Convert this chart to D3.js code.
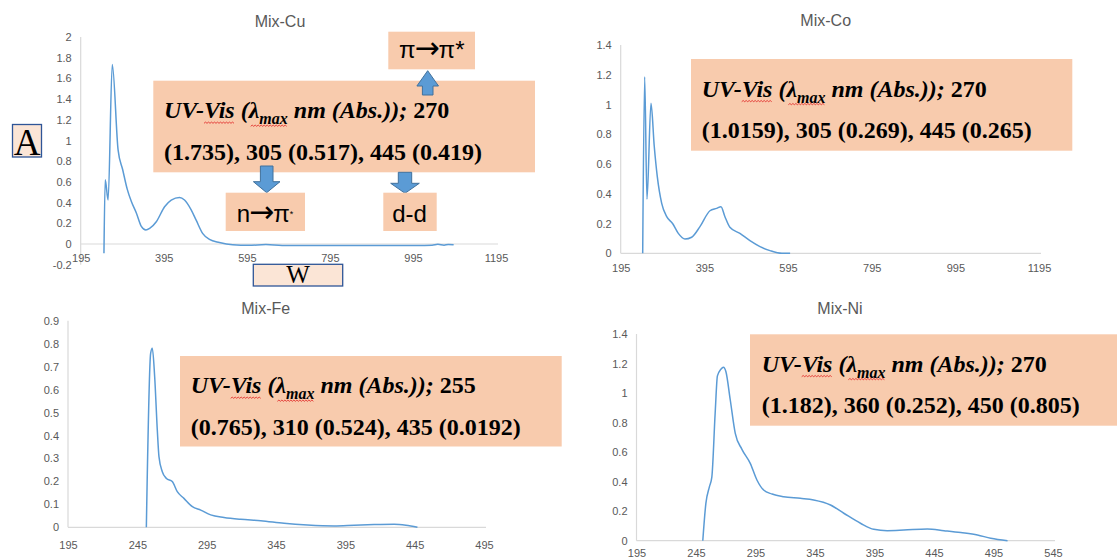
<!DOCTYPE html>
<html><head><meta charset="utf-8">
<script src="https://cdn.jsdelivr.net/npm/d3@7"></script>
<style>body{margin:0;background:#fff;} svg{display:block}</style>
</head><body><svg id="c" width="1117" height="559"></svg>
<script>
// ---------- data ----------
const cuWavelength = [251, 254, 261, 271, 285, 296, 307, 317, 329, 341, 352, 361, 377, 397, 413, 433, 445, 461, 473, 489, 505, 529, 561, 600, 641, 680, 800, 900, 1000, 1041, 1055, 1070, 1080, 1093];
const cuAbsorbance = [-0.09, 0.62, 0.425, 1.735, 0.91, 0.72, 0.53, 0.41, 0.30, 0.17, 0.135, 0.15, 0.215, 0.36, 0.425, 0.45, 0.425, 0.33, 0.23, 0.10, 0.045, 0.015, -0.007, -0.013, -0.006, -0.014, -0.015, -0.015, -0.014, -0.012, -0.003, -0.012, -0.004, -0.008];

const coWavelength = [247.6, 252.3, 257.8, 267.4, 275.3, 282.5, 293, 305, 319, 332.7, 348.6, 364.6, 384.5, 408.4, 424.4, 434.7, 444.2, 456, 480, 504, 528, 552, 580, 600];
const coAbsorbance = [0, 1.187, 0.363, 1.008, 0.716, 0.515, 0.336, 0.246, 0.2, 0.134, 0.096, 0.108, 0.179, 0.286, 0.302, 0.313, 0.246, 0.175, 0.134, 0.085, 0.045, 0.018, 0, 0];

const feWavelength = [251.5, 254.6, 255.8, 257.5, 259.4, 260.6, 263, 266, 270.2, 273.8, 278.6, 284.7, 290.7, 297.9, 307.5, 319.5, 334, 350.8, 367.7, 386.9, 401.4, 415.8, 430.2, 438.7, 447];
const feAbsorbance = [0, 0.758, 0.78, 0.656, 0.424, 0.308, 0.242, 0.213, 0.199, 0.155, 0.126, 0.09, 0.075, 0.054, 0.043, 0.035, 0.029, 0.0174, 0.01, 0.006, 0.009, 0.012, 0.0135, 0.009, 0];

const niWavelength = [250.7, 253.3, 256.3, 258.3, 261.1, 263, 265.9, 268.1, 270.1, 273.8, 278, 283.6, 290.6, 296.2, 301.8, 308.9, 318.6, 332.7, 343.9, 358, 369.2, 383.2, 394.4, 405.7, 419.7, 439.4, 453.4, 467.5, 481.5, 492.7, 506.8];
const niAbsorbance = [0, 0.253, 0.366, 0.43, 0.863, 1.116, 1.161, 1.175, 1.146, 0.953, 0.727, 0.619, 0.524, 0.411, 0.343, 0.316, 0.298, 0.287, 0.276, 0.242, 0.186, 0.118, 0.077, 0.068, 0.072, 0.08, 0.068, 0.055, 0.039, 0.016, 0];

const cuXTicks = [195, 395, 595, 795, 995, 1195];
const cuYTicks = [-0.2, 0, 0.2, 0.4, 0.6, 0.8, 1, 1.2, 1.4, 1.6, 1.8, 2];
const coXTicks = [195, 395, 595, 795, 995, 1195];
const coYTicks = [0, 0.2, 0.4, 0.6, 0.8, 1, 1.2, 1.4];
const feXTicks = [195, 245, 295, 345, 395, 445, 495];
const feYTicks = [0, 0.1, 0.2, 0.3, 0.4, 0.5, 0.6, 0.7, 0.8, 0.9];
const niXTicks = [195, 245, 295, 345, 395, 445, 495, 545];
const niYTicks = [0, 0.2, 0.4, 0.6, 0.8, 1, 1.2, 1.4];

const titles = ["Mix-Cu", "Mix-Co", "Mix-Fe", "Mix-Ni"];
const noteFirstLine = ["270", "270", "255", "270"];
const noteSecondLine = [
  "(1.735), 305 (0.517), 445 (0.419)",
  "(1.0159), 305 (0.269), 445 (0.265)",
  "(0.765), 310 (0.524), 435 (0.0192)",
  "(1.182), 360 (0.252), 450 (0.805)"
];
const transitionFrom = ["π", "n", "d"];
const transitionLink = ["→", "→", "-"];
const transitionTo = ["π*", "π*", "d"];
const axisTitles = ["A", "W"];

// ---------- drawing ----------
const svg = d3.select('#c');
const LINE = '#5b9bd5', AX = '#d9d9d9', TXT = '#595959', PEACH = '#f8cbad';
const SANS = '"Liberation Sans", Arial, sans-serif';
const SERIF = '"Liberation Serif", "Times New Roman", serif';
const fmt = d => String(+d.toFixed(1));

const panels = [
  {title: titles[0], wl: cuWavelength, ab: cuAbsorbance, xt: cuXTicks, yt: cuYTicks, xd: [195, 1195], yd: [-0.2, 2],
   x0: 80.7, x1: 496, yb: 264.7, ytop: 37, xPad: 10, tx: 280, ty: 27.4},
  {title: titles[1], wl: coWavelength, ab: coAbsorbance, xt: coXTicks, yt: coYTicks, xd: [195, 1195], yd: [0, 1.4],
   x0: 620.7, x1: 1039, yb: 253.3, ytop: 45, xPad: 10.8, tx: 825.7, ty: 25.7},
  {title: titles[2], wl: feWavelength, ab: feAbsorbance, xt: feXTicks, yt: feYTicks, xd: [195, 495], yd: [0, 0.9],
   x0: 68, x1: 484, yb: 527.3, ytop: 320.7, xPad: 13.8, tx: 265.7, ty: 314},
  {title: titles[3], wl: niWavelength, ab: niAbsorbance, xt: niXTicks, yt: niYTicks, xd: [195, 545], yd: [0, 1.4],
   x0: 636.5, x1: 1053, yb: 540.7, ytop: 334, xPad: 8.6, tx: 840, ty: 314}
];

panels.forEach(p => {
  const x = d3.scaleLinear().domain(p.xd).range([p.x0, p.x1]);
  const y = d3.scaleLinear().domain(p.yd).range([p.yb, p.ytop]);
  const g = svg.append('g');
  g.append('line').attr('x1', p.x0).attr('x2', p.x0).attr('y1', p.ytop).attr('y2', p.yb)
    .attr('stroke', AX).attr('stroke-width', 1.2);
  g.append('line').attr('x1', p.x0).attr('x2', p.x1 + 2).attr('y1', y(0)).attr('y2', y(0))
    .attr('stroke', AX).attr('stroke-width', 1.2);
  const ya = g.append('g').attr('transform', `translate(${p.x0},0)`)
    .call(d3.axisLeft(y).tickValues(p.yt).tickSize(0).tickPadding(9).tickFormat(fmt));
  const xa = g.append('g').attr('transform', `translate(0,${y(0)})`)
    .call(d3.axisBottom(x).tickValues(p.xt).tickSize(0).tickPadding(p.xPad).tickFormat(d3.format('d')));
  [ya, xa].forEach(a => {
    a.select('.domain').remove();
    a.selectAll('text').attr('font-family', SANS).attr('font-size', 11).attr('fill', TXT);
  });
  const pts = p.wl.map((w, i) => [w, p.ab[i]]);
  g.append('path').datum(pts)
    .attr('d', d3.line().x(d => x(d[0])).y(d => y(d[1])).curve(d3.curveMonotoneX))
    .attr('fill', 'none').attr('stroke', LINE).attr('stroke-width', 1.5).attr('stroke-linejoin', 'round');
  g.append('text').attr('x', p.tx).attr('y', p.ty).attr('text-anchor', 'middle')
    .attr('font-family', SANS).attr('font-size', 16).attr('fill', TXT).text(p.title);
});

function wavy(x0, x1, yy) {
  let d = `M${x0},${yy}`;
  let up = true;
  for (let xx = x0 + 1.5; xx <= x1; xx += 1.5) { d += `L${xx},${yy + (up ? -1.2 : 0)}`; up = !up; }
  svg.append('path').attr('d', d).attr('fill', 'none').attr('stroke', '#e02020').attr('stroke-width', 0.8);
}

const notes = [
  {x: 153.3, y: 80.7, w: 381.7, h: 91.6, tx: 164, b1: 118.3, b2: 160.3},
  {x: 691, y: 59, w: 381.3, h: 91.7, tx: 701.7, b1: 96.7, b2: 138.3},
  {x: 180, y: 356, w: 381.7, h: 90.5, tx: 190.7, b1: 393.3, b2: 434.8},
  {x: 750, y: 334.3, w: 382, h: 91.4, tx: 761.7, b1: 371.7, b2: 413.3}
];
notes.forEach((n, i) => {
  svg.append('rect').attr('x', n.x).attr('y', n.y).attr('width', n.w).attr('height', n.h).attr('fill', PEACH);
  const t = svg.append('text').attr('x', n.tx).attr('y', n.b1).attr('font-family', SERIF)
    .attr('font-weight', 'bold').attr('font-size', 24).attr('fill', '#000');
  t.append('tspan').attr('font-style', 'italic').text('UV-Vis (λ');
  t.append('tspan').attr('font-style', 'italic').attr('font-size', 16).attr('dy', 6).text('max');
  t.append('tspan').attr('font-style', 'italic').attr('dy', -6).text(' nm (Abs.));');
  t.append('tspan').text(' ' + noteFirstLine[i]);
  svg.append('text').attr('x', n.tx).attr('y', n.b2).attr('font-family', SERIF)
    .attr('font-weight', 'bold').attr('font-size', 24).attr('fill', '#000').text(noteSecondLine[i]);
  const node = t.node();
  wavy(node.getStartPositionOfChar(3).x, node.getEndPositionOfChar(5).x, n.b1 + 5);
  wavy(node.getStartPositionOfChar(8).x + 2, node.getEndPositionOfChar(11).x, n.b1 + 8);
});

// block arrows (Mix-Cu)
function arrow(cx, tip, headBase, end, headHalf, shaftHalf) {
  const pts = [[cx, tip], [cx + headHalf, headBase], [cx + shaftHalf, headBase], [cx + shaftHalf, end],
               [cx - shaftHalf, end], [cx - shaftHalf, headBase], [cx - headHalf, headBase]];
  svg.append('path').attr('d', 'M' + pts.map(p => p.join(',')).join('L') + 'Z')
    .attr('fill', LINE).attr('stroke', '#41719c').attr('stroke-width', 1);
}
arrow(427.7, 70.7, 86, 95, 10.8, 5.3);
arrow(266.7, 192.7, 181.7, 166, 13.3, 6.3);
arrow(405, 193.3, 183.3, 172.3, 14.3, 6.7);

const smallBoxes = [
  {x: 388.3, y: 31.7, w: 86.7, h: 37.6, cx: 431.7, b: 58.3, bigStar: true},
  {x: 225.7, y: 192.7, w: 79.3, h: 38.3, cx: 265, b: 221.7, bigStar: false},
  {x: 383.3, y: 192.7, w: 53.4, h: 38.3, cx: 409.5, b: 221.7, bigStar: false}
];
smallBoxes.forEach((b, i) => {
  svg.append('rect').attr('x', b.x).attr('y', b.y).attr('width', b.w).attr('height', b.h).attr('fill', PEACH);
  const t = svg.append('text').attr('x', b.cx).attr('y', b.b).attr('text-anchor', 'middle')
    .attr('font-family', SANS).attr('font-size', 24).attr('fill', '#000');
  t.append('tspan').text(transitionFrom[i]);
  if (transitionLink[i] === '→') {
    t.append('tspan').attr('font-family', '"DejaVu Sans", sans-serif').attr('font-size', 30).attr('dx', -1).text('→');
    const to = transitionTo[i];
    t.append('tspan').attr('dx', -1).text(to[0]);
    t.append('tspan').attr('font-size', b.bigStar ? 24 : 9).attr('dy', b.bigStar ? 0 : -5).text(to.slice(1));
  } else {
    t.append('tspan').text(transitionLink[i] + transitionTo[i]);
  }
});

// axis title boxes
svg.append('rect').attr('x', 12.5).attr('y', 124.5).attr('width', 29).attr('height', 32.5)
  .attr('fill', '#fbe5d6').attr('stroke', '#2f5597').attr('stroke-width', 1.3);
svg.append('text').attr('x', 27).attr('y', 155).attr('text-anchor', 'middle').attr('font-family', SERIF)
  .attr('font-size', 37).attr('fill', '#000').text(axisTitles[0]);
svg.append('rect').attr('x', 253.3).attr('y', 264.3).attr('width', 89.4).attr('height', 21.7)
  .attr('fill', '#fbe5d6').attr('stroke', '#2f5597').attr('stroke-width', 1.3);
svg.append('text').attr('x', 298).attr('y', 283).attr('text-anchor', 'middle').attr('font-family', SERIF)
  .attr('font-size', 25).attr('fill', '#000').text(axisTitles[1]);
</script>
</body></html>
